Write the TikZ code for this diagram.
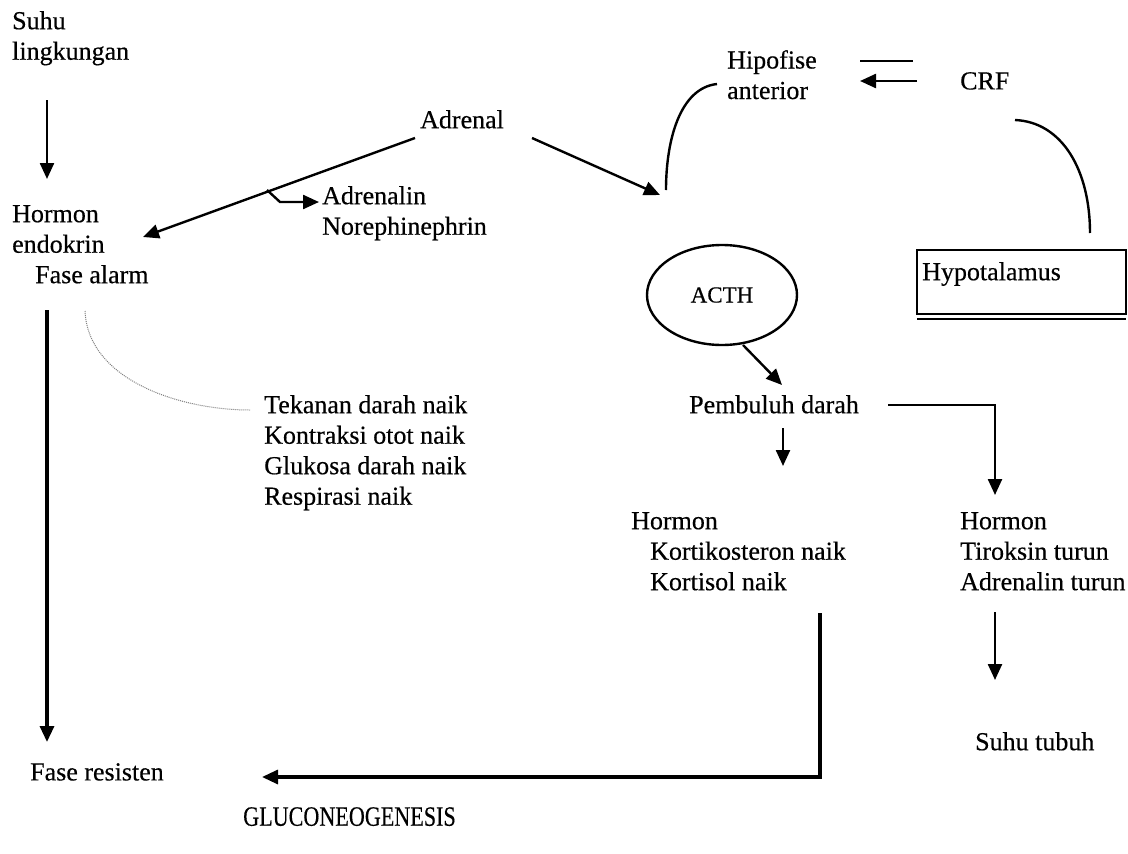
\documentclass[tikz,border=0pt]{standalone}
\usepackage{fontspec}
\setmainfont{Liberation Serif}[FakeBold=0.4]
\usetikzlibrary{arrows.meta,shapes.geometric}
\tikzset{
  txt/.style={inner sep=0pt, align=left, anchor=north west, font=\fontsize{26}{30.5}\selectfont},
  conn/.style={line width=2.4pt},
  arr/.style={line width=2.4pt, -{Triangle[length=16pt,width=14pt]}},
  thickarr/.style={line width=3.2pt, -{Triangle[length=16pt,width=14pt]}},
}
\begin{document}
\begin{tikzpicture}[x=1pt,y=-1pt]
\useasboundingbox[fill=white] (0,0) rectangle (1128,854);

% text nodes
\node[txt] (suhu) at (12,11) {Suhu\\lingkungan};
\node[txt] (hormon) at (12,205) {Hormon\\endokrin\\\hspace*{23pt}Fase alarm};
\node[txt] (adrenal) at (420,110) {Adrenal};
\node[txt] (adren) at (322,186) {Adrenalin\\Norephinephrin};
\node[txt] (hipofise) at (727,50) {Hipofise\\anterior};
\node[txt] (crf) at (960,72) {CRF};
\node[draw, line width=2.4pt, ellipse, minimum width=150pt, minimum height=100pt, inner sep=0pt,
      font=\fontsize{23}{26}\selectfont] (acth) at (722,295) {ACTH};
\node[txt] (hypo) at (922,262) {Hypotalamus};
\node[txt] (pembuluh) at (689,395) {Pembuluh darah};
\node[txt] (hormon2) at (631,512) {Hormon\\\hspace*{19pt}Kortikosteron naik\\\hspace*{19pt}Kortisol naik};
\node[txt] (hormon3) at (960,512) {Hormon\\Tiroksin turun\\Adrenalin turun};
\node[txt] (tekanan) at (264,395) {Tekanan darah naik\\Kontraksi otot naik\\Glukosa darah naik\\Respirasi naik};
\node[txt] (suhutubuh) at (975,732) {Suhu tubuh};
\node[txt] (faseres) at (30,763) {Fase resisten};
\node[txt, font=\fontsize{28}{30}\selectfont] (gluco) at (243,807) {\scalebox{0.79}[1]{GLUCONEOGENESIS}};

% hypotalamus box
\coordinate (hb1) at (917,250);
\coordinate (hb2) at (1126,314);
\draw[line width=2.4pt] (hb1) rectangle (hb2);
\coordinate (hb3) at (917,319);
\coordinate (hb4) at (1126,319);
\draw[line width=1.8pt] (hb3) -- (hb4);

% coordinates for connector ends
\coordinate (a1s) at (47,100);
\coordinate (a1e) at (47,179);
\coordinate (adL) at (415,138);
\coordinate (horR) at (143,237);
\coordinate (br0) at (267,190);
\coordinate (br1) at (280,202);
\coordinate (br2) at (319,202);
\coordinate (adR) at (532,138);
\coordinate (hipB) at (660,195);
\coordinate (bar1) at (860,61);
\coordinate (bar2) at (913,61);
\coordinate (crfA) at (917,81);
\coordinate (hipA) at (860,81);
\coordinate (hc1) at (717,84);
\coordinate (hc2) at (666,190);
\coordinate (cc1) at (1015,120);
\coordinate (cc2) at (1090,233);
\coordinate (acB) at (743,345);
\coordinate (pbT) at (782,385);
\coordinate (pbR) at (888,405);
\coordinate (pbC) at (995,405);
\coordinate (h3T) at (995,495);
\coordinate (pbD) at (783,428);
\coordinate (h2T) at (783,466);
\coordinate (h2B) at (820,613);
\coordinate (h2C) at (820,777);
\coordinate (frR) at (262,777);
\coordinate (h3B) at (995,612);
\coordinate (stT) at (995,680);
\coordinate (faB) at (47,310);
\coordinate (frT) at (47,742);
\coordinate (dc1) at (85,311);
\coordinate (dc2) at (250,410);

% connectors
\draw[arr] (a1s) -- (a1e);
\draw[arr] (adL) -- (horR);
\draw[arr] (br0) -- (br1) -- (br2);
\draw[arr] (adR) -- (hipB);
\draw[conn] (bar1) -- (bar2);
\draw[arr] (crfA) -- (hipA);
\draw[conn] (hc1) .. controls (680,88) and (666,140) .. (hc2);
\draw[conn] (cc1) .. controls (1062,122) and (1090,170) .. (cc2);
\draw[arr] (acB) -- (pbT);
\draw[arr] (pbR) -- (pbC) -- (h3T);
\draw[arr] (pbD) -- (h2T);
\draw[thickarr] (h2B) -- (h2C) -- (frR);
\draw[arr] (h3B) -- (stT);
\draw[thickarr] (faB) -- (frT);
\draw[gray, densely dotted, line width=1pt] (dc1) .. controls (88,380) and (180,410) .. (dc2);
\end{tikzpicture}
\end{document}
